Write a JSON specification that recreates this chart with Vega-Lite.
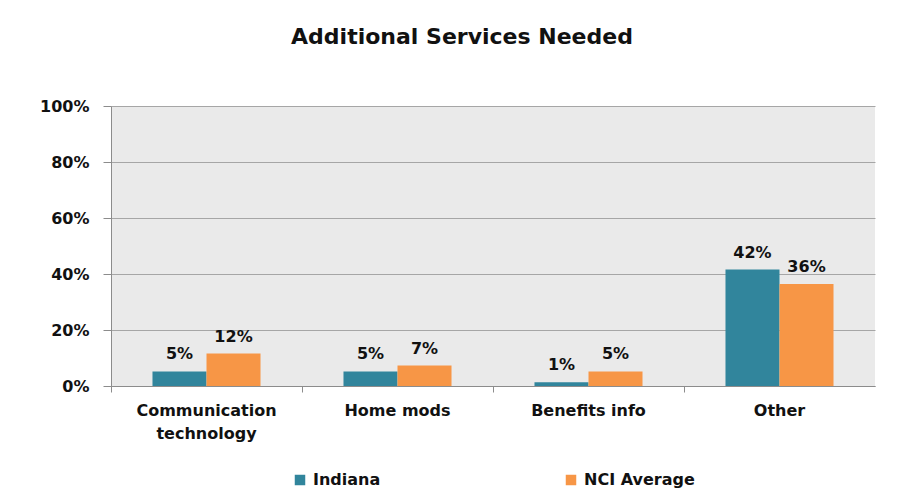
{
  "$schema": "https://vega.github.io/schema/vega-lite/v6.json",
  "autosize": {"type": "none"},
  "width": 764,
  "height": 280,
  "padding": {"left": 111, "top": 106, "right": 28, "bottom": 115},
  "background": "white",
  "title": {
    "text": "Additional Services Needed",
    "font": "DejaVu Sans",
    "fontWeight": "bold",
    "fontSize": 22,
    "color": "#111111",
    "anchor": "middle",
    "dx": -31,
    "offset": 49
  },
  "data": {
    "values": [
      {"category": "Communication technology", "series": "Indiana", "value": 0.052},
      {"category": "Communication technology", "series": "NCI Average", "value": 0.116},
      {"category": "Home mods", "series": "Indiana", "value": 0.052},
      {"category": "Home mods", "series": "NCI Average", "value": 0.073},
      {"category": "Benefits info", "series": "Indiana", "value": 0.013},
      {"category": "Benefits info", "series": "NCI Average", "value": 0.052},
      {"category": "Other", "series": "Indiana", "value": 0.416},
      {"category": "Other", "series": "NCI Average", "value": 0.364}
    ]
  },
  "encoding": {
    "x": {
      "field": "category",
      "type": "nominal",
      "sort": null,
      "scale": {"paddingInner": 0, "paddingOuter": 0},
      "axis": {
        "title": null,
        "labelAngle": 0,
        "bandPosition": 0,
        "labelFont": "DejaVu Sans",
        "labelFontWeight": "bold",
        "labelFontSize": 16,
        "labelColor": "#111111",
        "labelPadding": 10,
        "labelLineHeight": 23,
        "labelExpr": "datum.value == 'Communication technology' ? ['Communication', 'technology'] : datum.value",
        "domainColor": "#8c8c8c",
        "tickColor": "#8c8c8c",
        "tickSize": 6,
        "grid": false
      }
    },
    "xOffset": {
      "field": "series",
      "type": "nominal",
      "scale": {"paddingInner": 0, "paddingOuter": 0.768}
    },
    "y": {
      "field": "value",
      "type": "quantitative",
      "scale": {"domain": [0, 1]},
      "axis": {
        "title": null,
        "format": ".0%",
        "values": [0, 0.2, 0.4, 0.6, 0.8, 1],
        "labelFont": "DejaVu Sans",
        "labelFontWeight": "bold",
        "labelFontSize": 16,
        "labelColor": "#111111",
        "labelPadding": 14,
        "tickSize": 8,
        "tickColor": "#8c8c8c",
        "domainColor": "#8c8c8c",
        "gridColor": "#a6a6a6",
        "gridWidth": 1
      }
    }
  },
  "layer": [
    {
      "mark": {"type": "bar"},
      "encoding": {
        "color": {
          "field": "series",
          "type": "nominal",
          "scale": {"domain": ["Indiana", "NCI Average"], "range": ["#31859C", "#F79646"]},
          "legend": {
            "title": null,
            "orient": "none",
            "legendX": 181,
            "legendY": 366,
            "direction": "horizontal",
            "symbolType": "square",
            "symbolSize": 110,
            "symbolStrokeWidth": 0,
            "labelFont": "DejaVu Sans",
            "labelFontWeight": "bold",
            "labelFontSize": 16,
            "labelColor": "#111111",
            "labelOffset": 5,
            "columnPadding": 182
          }
        }
      }
    },
    {
      "mark": {
        "type": "text",
        "baseline": "alphabetic",
        "dy": -12,
        "font": "DejaVu Sans",
        "fontWeight": "bold",
        "fontSize": 16,
        "color": "#111111"
      },
      "encoding": {
        "text": {"field": "value", "type": "quantitative", "format": ".0%"}
      }
    }
  ],
  "config": {
    "view": {"fill": "#EAEAEA", "stroke": null}
  }
}
